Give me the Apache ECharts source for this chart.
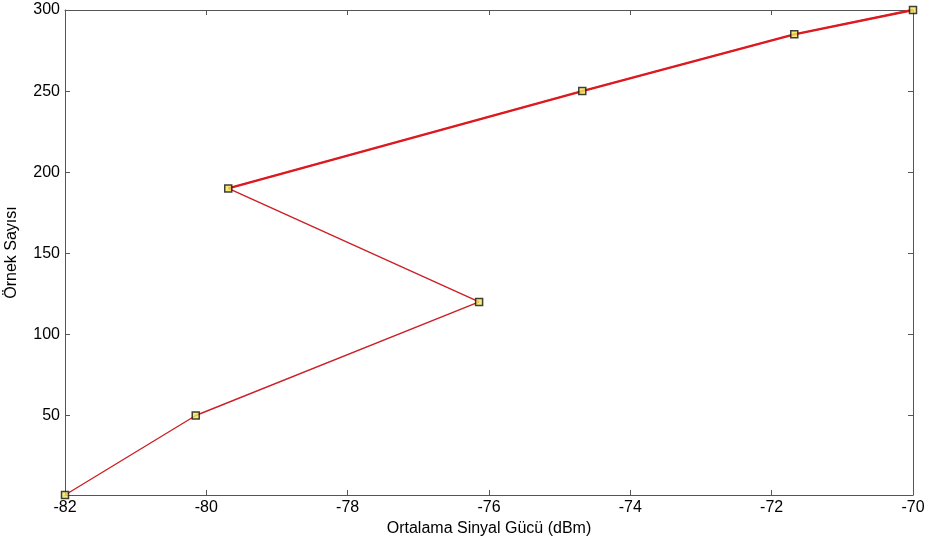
<!DOCTYPE html>
<html><head><meta charset="utf-8">
<script src="https://cdn.jsdelivr.net/npm/echarts@6/dist/echarts.min.js"></script>
<style>html,body{margin:0;padding:0;background:#fff}#c{width:926px;height:543px}</style>
</head><body><div id="c"></div>
<script>
const signalPower = [-82, -80.15, -76.14, -79.69, -74.68, -71.68, -70];
const sampleCount = [1, 50, 120, 190, 250, 285, 300];
const xTicks = [-82, -80, -78, -76, -74, -72, -70];
const yTicks = [50, 100, 150, 200, 250, 300];
const xName = 'Ortalama Sinyal Gücü (dBm)';
const yName = 'Örnek Sayısı';

const pts = signalPower.map((x, i) => [x, sampleCount[i]]);
const upper = pts.slice(3);
const font = 'Liberation Sans, Arial, sans-serif';
const axColor = '#555';
const chart = echarts.init(document.getElementById('c'));
const baseX = {type:'value', min:-82, max:-70, interval:2,
  axisLine:{show:true,lineStyle:{color:axColor,width:1}},
  axisTick:{show:true,inside:true,length:5,lineStyle:{color:axColor}},
  splitLine:{show:false}};
const baseY = {type:'value', min:1, max:300,
  axisLine:{show:true,lineStyle:{color:axColor,width:1}},
  axisTick:{show:true,inside:true,length:5,customValues:yTicks,lineStyle:{color:axColor}},
  splitLine:{show:false}};
chart.setOption({
  animation:false,
  grid:{left:65,right:13,top:10,bottom:48,containLabel:false,outerBoundsMode:'none'},
  xAxis:[
    Object.assign({}, baseX, {position:'bottom', name:xName, nameLocation:'middle', nameGap:21,
      nameTextStyle:{fontFamily:font,fontSize:16,color:'#000'},
      axisLabel:{show:true,fontFamily:font,fontSize:16,color:'#000',margin:5,customValues:xTicks}}),
    Object.assign({}, baseX, {position:'top', axisLabel:{show:false}})
  ],
  yAxis:[
    Object.assign({}, baseY, {position:'left', name:yName, nameLocation:'middle', nameGap:45,
      nameTextStyle:{fontFamily:font,fontSize:16,color:'#000'},
      axisLabel:{show:true,fontFamily:font,fontSize:16,color:'#000',margin:5,customValues:yTicks}}),
    Object.assign({}, baseY, {position:'right', axisLabel:{show:false}})
  ],
  series:[
    {type:'line', data:pts, symbol:'none', lineStyle:{color:'#cc1f26',width:1.4}, z:2},
    {type:'line', data:upper, symbol:'none', lineStyle:{color:'#dd1a20',width:2.3}, z:3},
    {type:'scatter', data:pts, symbol:'rect', symbolSize:7,
      itemStyle:{color:'#f2e85a',borderColor:'#111',borderWidth:1.5}, z:5}
  ]
});
</script></body></html>
